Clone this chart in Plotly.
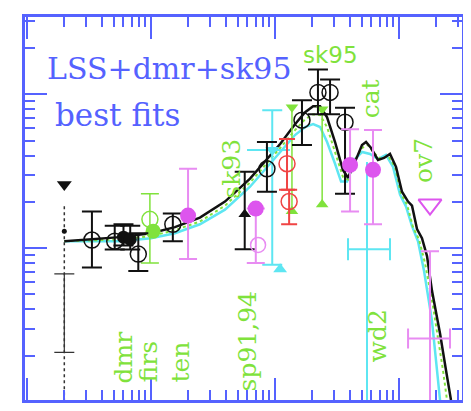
import plotly.graph_objects as go

# ---------------- data ----------------
# model curves: multipole l and power l(l+1)C_l/2pi (1e-10 units)
fit_black_l = [2, 3.22, 5.62, 10, 15.6, 24.8, 39.5, 62.9, 83, 110, 145, 175, 203, 231, 263, 305, 353, 388,
               442, 503, 542, 595, 677, 757, 846, 946, 1057, 1183, 1273, 1397, 1532, 1682, 1845, 2142, 2393, 2625]
fit_black_v = [1.11, 1.14, 1.18, 1.25, 1.37, 1.58, 2.01, 2.83, 3.64, 4.76, 6.4, 7.65, 8.37, 8.37, 7.1, 4.9, 3.23, 2.87,
               3.64, 4.69, 4.9, 4.48, 3.75, 3.86, 4.1, 3.38, 2.33, 2.01, 1.89, 1.33, 1.16, 0.888, 0.528, 0.279, 0.161, 0.103]
fit_cyan_l = [2, 5.62, 10, 15.6, 24.8, 39.5, 62.9, 83, 110, 145, 175, 203, 231, 263, 305, 341, 381,
              442, 503, 584, 677, 785, 895, 1019, 1138, 1273, 1423, 1592, 1845, 2142]
fit_cyan_v = [1.11, 1.11, 1.16, 1.25, 1.43, 1.78, 2.51, 3.23, 4.22, 5.44, 6.13, 6.4, 6.13, 4.9, 3.54, 2.71, 2.71,
              3.8, 4.22, 4.1, 3.8, 4.04, 3.38, 2.23, 1.87, 1.39, 1.11, 0.71, 0.337, 0.103]
fit_green_l = [2, 5.62, 10, 15.6, 24.8, 39.5, 62.9, 83, 110, 145, 175, 203, 231, 263, 305, 353, 388,
               442, 503, 562, 640, 716, 815, 929, 1038, 1161, 1297, 1449, 1622, 1880, 2263, 2438]
fit_green_v = [1.11, 1.14, 1.2, 1.31, 1.49, 1.89, 2.67, 3.43, 4.48, 5.85, 6.89, 7.43, 7.33, 6.13, 4.22, 2.91, 2.79,
               3.75, 4.48, 4.69, 4.1, 3.8, 3.98, 3.38, 2.26, 1.92, 1.37, 1.14, 0.8, 0.42, 0.161, 0.103]

# black open circles: l, value, upper, lower
bo_l = [3.34, 5.1, 7.9, 15.0, 86.1, 165, 222, 278, 367]
bo_v = [1.13, 1.11, 0.915, 1.43, 3.28, 6.8, 10.3, 10.3, 6.59]
bo_hi = [1.73, 1.40, 1.25, 1.68, 4.9, 9.15, 14.5, 12.5, 8.2]
bo_lo = [0.75, 0.98, 0.71, 1.11, 2.33, 4.69, 7.43, 7.43, 2.26]

# black filled points
bf_l = [6.0, 6.8]
bf_v = [1.18, 1.14]
bf_hi = [1.43, 1.40]
bf_lo = [1.04, 0.98]

# black filled triangle with error
bt_l = [57]
bt_v = [1.66]
bt_hi = [3.14]
bt_lo = [0.985]

# quadrupole (l=2)
q_l = [2]
q_lim = [2.59]
q_v = [1.29]
q_dot_top = [1.87]
q_dot_bot = [0.03]
q_cap_hi = [0.68]
q_cap_lo = [0.21]

# magenta filled circles
mf_l = [19.9, 70, 403, 617]
mf_v = [1.63, 1.81, 3.48, 3.23]
mf_hi = [3.28, 1.81, 5.94, 5.86]
mf_lo = [0.85, 0.80, 1.73, 1.43]
mo_l = [73]
mo_v = [1.05]
mlim_l = [1778]
mlim_v = [1.92]
mbar_l = [1778]
mbar_v = [0.956]
mbar_lo = [0.03]
mx_l = [1750]
mx_v = [0.259]
mx_lmin = [1183]
mx_lmax = [2578]

# red open circles
r_l = [125, 130]
r_v = [3.54, 2.01]
r_hi = [5.13, 2.40]
r_lo = [2.40, 1.43]

# cyan points
c_l = [95]
c_v = [4.35]
c_hi = [7.88]
c_lo = [0.78]
c_lmin = [59.5]
c_lmax = [132]
ct_l = [110]
ct_v = [0.73]
w_l = [552]
w_v = [0.985]
w_hi = [3.64]
w_lo = [0.03]
w_lmin = [388]
w_lmax = [846]

# green points
go_l = [9.8]
go_v = [1.54]
go_hi = [2.26]
go_lo = [0.80]
gf_l = [10.4]
gf_v = [1.29]
gt_l = [137, 240]
gt_top = [8.24, 8.0]
gt_bot = [1.74, 1.92]

# ---------------- styles ----------------
BLUE = "#5562ff"
BLACK = "#111111"
CYAN = "#5ee6f2"
GREEN = "#80e23c"
MAG = "#dd55ee"
MAGL = "#e88cf2"
RED = "#f04444"

fig = go.Figure()

def sub(a, b):
    return [x - y for x, y in zip(a, b)]

# curves
fig.add_trace(go.Scatter(x=fit_cyan_l, y=fit_cyan_v, mode="lines", line=dict(color=CYAN, width=2.5)))
fig.add_trace(go.Scatter(x=fit_green_l, y=fit_green_v, mode="lines", line=dict(color=GREEN, width=2, dash="dot")))
fig.add_trace(go.Scatter(x=fit_black_l, y=fit_black_v, mode="lines", line=dict(color=BLACK, width=2.5)))

# quadrupole
fig.add_trace(go.Scatter(x=q_l * 2, y=q_dot_top + q_dot_bot, mode="lines",
                         line=dict(color="#333333", width=1.5, dash="dot")))
fig.add_trace(go.Scatter(x=q_l, y=q_cap_hi, mode="markers", marker=dict(size=1, color="rgba(0,0,0,0)"),
                         error_y=dict(type="data", array=[0], arrayminus=sub(q_cap_hi, q_cap_lo),
                                      color="#333333", thickness=1.2, width=10)))
fig.add_trace(go.Scatter(x=q_l, y=q_v, mode="markers", marker=dict(size=5, color=BLACK)))
fig.add_trace(go.Scatter(x=q_l, y=q_lim, mode="markers", marker=dict(size=13, symbol="triangle-down", color=BLACK)))

# cyan
fig.add_trace(go.Scatter(x=w_l, y=w_v, mode="markers", marker=dict(size=1, color="rgba(0,0,0,0)"),
                         error_y=dict(type="data", array=sub(w_hi, w_v), arrayminus=sub(w_v, w_lo),
                                      color=CYAN, thickness=2, width=0),
                         error_x=dict(type="data", array=sub(w_lmax, w_l), arrayminus=sub(w_l, w_lmin),
                                      color=CYAN, thickness=2, width=11)))
fig.add_trace(go.Scatter(x=c_l, y=c_v, mode="markers", marker=dict(size=12, symbol="triangle-down", color=CYAN),
                         error_y=dict(type="data", array=sub(c_hi, c_v), arrayminus=sub(c_v, c_lo),
                                      color=CYAN, thickness=2, width=10),
                         error_x=dict(type="data", array=sub(c_lmax, c_l), arrayminus=sub(c_l, c_lmin),
                                      color=CYAN, thickness=2, width=0)))
fig.add_trace(go.Scatter(x=ct_l, y=ct_v, mode="markers", marker=dict(size=12, symbol="triangle-up", color=CYAN)))

# green
fig.add_trace(go.Scatter(x=go_l, y=go_v, mode="markers",
                         marker=dict(size=16, symbol="circle-open", color=GREEN, line=dict(width=1.5)),
                         error_y=dict(type="data", array=sub(go_hi, go_v), arrayminus=sub(go_v, go_lo),
                                      color=GREEN, thickness=1.5, width=9)))
fig.add_trace(go.Scatter(x=gf_l, y=gf_v, mode="markers", marker=dict(size=15, color=GREEN)))
gt_x, gt_y, gt_s = [], [], []
for l, t, b in zip(gt_l, gt_top, gt_bot):
    gt_x += [l, l, None]
    gt_y += [t, b, None]
    gt_s += ["triangle-down", "triangle-up", "circle"]
fig.add_trace(go.Scatter(x=gt_x, y=gt_y, mode="lines+markers", line=dict(color=GREEN, width=1.5),
                         marker=dict(size=11, symbol=gt_s, color=GREEN)))

# red
fig.add_trace(go.Scatter(x=r_l, y=r_v, mode="markers",
                         marker=dict(size=16, symbol="circle-open", color=RED, line=dict(width=1.5)),
                         error_y=dict(type="data", array=sub(r_hi, r_v), arrayminus=sub(r_v, r_lo),
                                      color=RED, thickness=2, width=8)))

# black
fig.add_trace(go.Scatter(x=bf_l, y=bf_v, mode="markers", marker=dict(size=13, color=BLACK),
                         error_y=dict(type="data", array=sub(bf_hi, bf_v), arrayminus=sub(bf_v, bf_lo),
                                      color=BLACK, thickness=2, width=10)))
fig.add_trace(go.Scatter(x=bt_l, y=bt_v, mode="markers", marker=dict(size=11, symbol="triangle-up", color=BLACK),
                         error_y=dict(type="data", array=sub(bt_hi, bt_v), arrayminus=sub(bt_v, bt_lo),
                                      color=BLACK, thickness=2, width=10)))
fig.add_trace(go.Scatter(x=bo_l, y=bo_v, mode="markers",
                         marker=dict(size=16, symbol="circle-open", color=BLACK, line=dict(width=1.5)),
                         error_y=dict(type="data", array=sub(bo_hi, bo_v), arrayminus=sub(bo_v, bo_lo),
                                      color=BLACK, thickness=2, width=10)))

# magenta
fig.add_trace(go.Scatter(x=mbar_l, y=mbar_v, mode="markers", marker=dict(size=1, color="rgba(0,0,0,0)"),
                         error_y=dict(type="data", array=[0], arrayminus=sub(mbar_v, mbar_lo),
                                      color=MAGL, thickness=2, width=9)))
fig.add_trace(go.Scatter(x=mx_l, y=mx_v, mode="markers", marker=dict(size=1, color="rgba(0,0,0,0)"),
                         error_x=dict(type="data", array=sub(mx_lmax, mx_l), arrayminus=sub(mx_l, mx_lmin),
                                      color=MAGL, thickness=2, width=10)))
fig.add_trace(go.Scatter(x=mf_l, y=mf_v, mode="markers", marker=dict(size=16, color=MAG),
                         error_y=dict(type="data", array=sub(mf_hi, mf_v), arrayminus=sub(mf_v, mf_lo),
                                      color=MAGL, thickness=2, width=9)))
fig.add_trace(go.Scatter(x=mo_l, y=mo_v, mode="markers",
                         marker=dict(size=15, symbol="circle-open", color=MAGL, line=dict(width=1.5))))
fig.add_trace(go.Scatter(x=mlim_l, y=mlim_v, mode="markers",
                         marker=dict(size=20, symbol="triangle-down-open", color=MAG, line=dict(width=2))))

axis_common = dict(type="log", showline=True, linewidth=3, linecolor=BLUE, mirror="ticks",
                   ticks="inside", ticklen=22, tickwidth=2, tickcolor=BLUE, dtick=1,
                   showticklabels=False, showgrid=False, zeroline=False,
                   minor=dict(ticks="inside", ticklen=10, tickwidth=2, tickcolor=BLUE, dtick="D1", showgrid=False))
fig.update_xaxes(range=[-0.016, 3.508], **axis_common)
fig.update_yaxes(range=[-0.987, 1.503], **axis_common)

ann = []
ann.append(dict(text="LSS+dmr+sk95", x=0.046, y=0.865, xanchor="left", yanchor="middle",
                font=dict(family="DejaVu Serif", size=30, color=BLUE)))
ann.append(dict(text="best fits", x=0.064, y=0.745, xanchor="left", yanchor="middle",
                font=dict(family="DejaVu Serif", size=31, color=BLUE)))
ann.append(dict(text="sk95", x=0.698, y=0.902, xanchor="center", yanchor="middle",
                font=dict(family="DejaVu Sans", size=23, color=GREEN)))
rot = [("dmr", 0.2265, 0.111), ("firs", 0.2815, 0.098), ("ten", 0.3547, 0.098),
       ("sp91,94", 0.508, 0.153), ("wd2", 0.8055, 0.166), ("sk93", 0.4737, 0.604),
       ("cat", 0.7895, 0.785), ("ov7", 0.9108, 0.624)]
for t, x, y in rot:
    ann.append(dict(text=t, x=x, y=y, xanchor="center", yanchor="middle", textangle=-90,
                    font=dict(family="DejaVu Serif", size=25, color=GREEN)))
for a in ann:
    a.update(xref="paper", yref="paper", showarrow=False)

# page body keeps an 8px margin, so the figure is sized/offset to put the frame where the reference has it
fig.update_layout(width=463, height=403, margin=dict(l=17, r=9, t=6, b=11),
                  plot_bgcolor="white", paper_bgcolor="white", showlegend=False,
                  annotations=ann)
fig.write_html("out.html")
